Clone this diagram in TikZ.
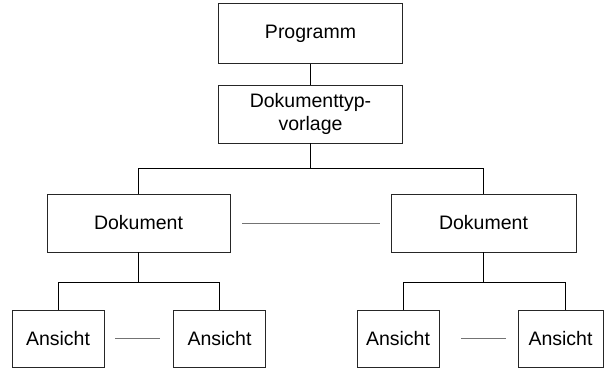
\documentclass[tikz,border=0pt]{standalone}
\usepackage{fontspec}
\setmainfont{Liberation Sans}
\begin{document}
\begin{tikzpicture}[x=1pt,y=-1pt,
  box/.style={draw=black!85,line width=0.8pt,inner sep=0pt,align=center,
    font=\fontsize{19.5}{23}\selectfont},
  conn/.style={line width=0.9pt,black},
  rel/.style={line width=0.6pt,black!55}]
\useasboundingbox (0,0) rectangle (615,370);
\node[box,minimum width=184pt,minimum height=60pt] (prog) at (310.5,33.5) {Programm};
\node[box,minimum width=184pt,minimum height=58pt] (dtv) at (310.5,114) {Dokumenttyp-\\vorlage};
\node[box,minimum width=183pt,minimum height=58pt] (dokL) at (138.5,223) {Dokument};
\node[box,minimum width=185pt,minimum height=58pt] (dokR) at (483.5,223) {Dokument};
\node[box,minimum width=92pt,minimum height=57pt] (a1) at (58,338.5) {Ansicht};
\node[box,minimum width=92pt,minimum height=57pt] (a2) at (219.5,338.5) {Ansicht};
\node[box,minimum width=82pt,minimum height=57pt] (a3) at (398,338.5) {Ansicht};
\node[box,minimum width=85pt,minimum height=57pt] (a4) at (560.5,338.5) {Ansicht};
\coordinate (b0) at (310.5,168);
\coordinate (bL) at (138.5,168);
\coordinate (bR) at (483.5,168);
\coordinate (cL) at (138.5,282);
\coordinate (cR) at (483.5,282);
\coordinate (c1) at (58,282);
\coordinate (c2) at (219.5,282);
\coordinate (c3) at (403,282);
\coordinate (c4) at (565,282);
\draw[conn] (prog.south) -- (dtv.north);
\draw[conn] (dtv.south) -- (b0);
\draw[conn] (dokL.north) -- (bL) -- (bR) -- (dokR.north);
\draw[conn] (dokL.south) -- (cL);
\draw[conn] (a1.north) -- (c1) -- (c2) -- (a2.north);
\draw[conn] (dokR.south) -- (cR);
\draw[conn] (c3) -- (c3 |- a3.north);
\draw[conn] (c3) -- (c4) -- (c4 |- a4.north);
\draw[rel,shorten <=12pt,shorten >=11pt] (dokL.east) -- (dokR.west);
\draw[rel,shorten <=11pt,shorten >=13pt] (a1.east) -- (a2.west);
\draw[rel,shorten <=22pt,shorten >=12pt] (a3.east) -- (a4.west);
\end{tikzpicture}
\end{document}
